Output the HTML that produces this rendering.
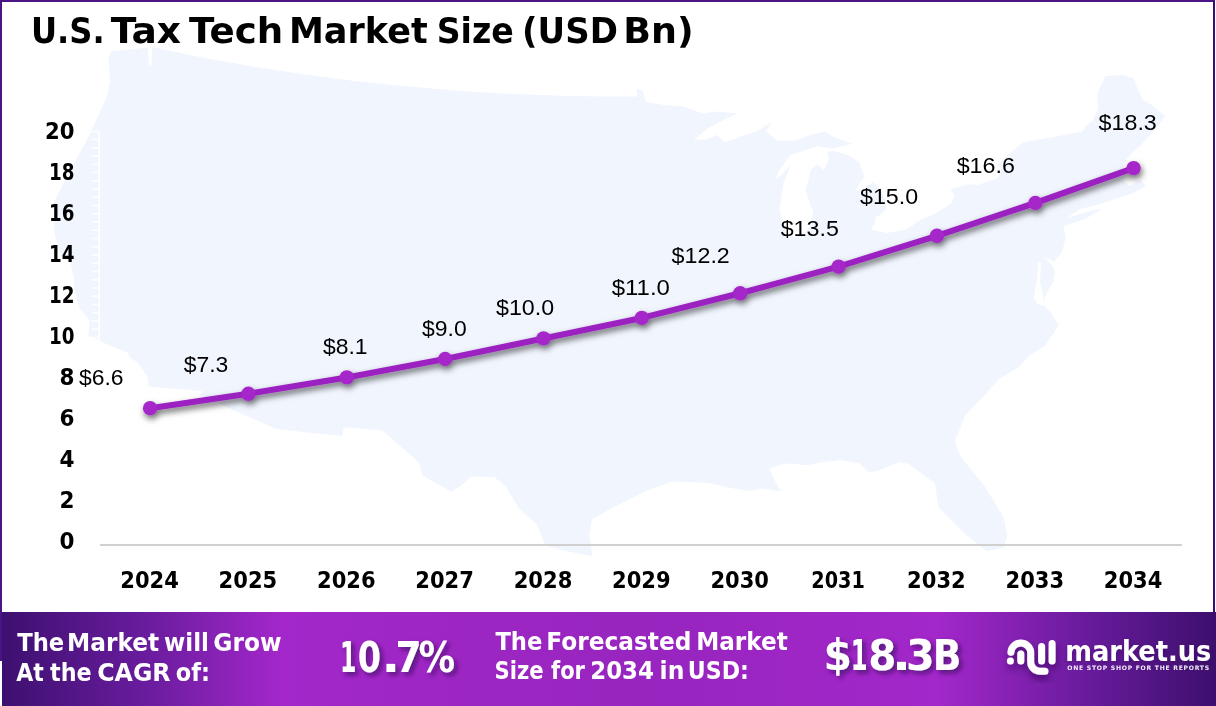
<!DOCTYPE html>
<html><head><meta charset="utf-8"><style>
html,body{margin:0;padding:0;background:#fff;}
body{width:1216px;height:706px;position:relative;overflow:hidden;font-family:"Liberation Sans",Arial,sans-serif;}
.pb{font-family:"DejaVu Sans","Liberation Sans",sans-serif;}
.frame{position:absolute;left:0;top:0;width:1211px;height:659px;border:2px solid #4a1484;border-bottom:none;border-right-color:#3c0b76;}
svg{position:absolute;left:0;top:0;}
.banner{position:absolute;left:2px;top:612px;width:1214px;height:94px;
background:linear-gradient(90deg,#3d1070 0%,#6a1c9e 12%,#a327ca 23%,#9c26c2 40%,#9825bf 55%,#a327ca 77%,#6c1ca0 88.5%,#3d0f6d 100%);}
</style></head><body>
<div class="frame"></div>
<svg width="1216" height="706" viewBox="0 0 1216 706">
<defs>
<filter id="mb"><feGaussianBlur stdDeviation="0.7"/></filter>
<filter id="sh" x="-5%" y="-20%" width="110%" height="150%"><feDropShadow dx="1.5" dy="3.5" stdDeviation="3" flood-color="#000" flood-opacity="0.58"/></filter>
</defs>
<path d="M111.1 51.1 L130.0 49.5 L147.5 47.5 L149.5 66.0 L151.5 66.0 L152.0 47.0 L197.2 56.6 L249.3 65.9 L301.8 74.0 L354.6 80.9 L407.7 86.5 L460.9 90.9 L514.4 94.0 L568.0 95.9 L600.1 96.4 L636.8 96.5 L636.7 89.0 L642.4 90.2 L645.8 101.9 L664.8 105.0 L682.8 106.6 L703.1 113.4 L715.7 111.4 L737.7 113.4 L725.4 118.9 L707.7 128.5 L693.7 139.8 L706.6 139.4 L716.5 135.1 L725.3 142.1 L739.8 137.0 L757.7 131.1 L771.4 121.9 L766.1 131.6 L777.3 140.8 L796.0 140.5 L810.1 134.9 L825.3 131.8 L832.8 136.6 L842.8 140.6 L852.8 143.7 L841.9 146.3 L831.9 148.6 L817.3 145.9 L803.0 151.0 L790.3 154.9 L780.6 168.5 L774.3 179.9 L783.1 173.4 L791.4 163.8 L784.0 181.3 L781.7 194.5 L779.7 210.6 L783.2 224.5 L788.2 233.2 L794.7 237.4 L803.3 234.2 L809.8 226.7 L813.4 212.3 L810.3 204.5 L805.4 189.8 L808.2 181.6 L810.4 170.4 L817.1 163.9 L823.8 170.3 L828.8 158.9 L827.7 152.0 L832.6 151.0 L841.1 152.8 L850.8 156.5 L859.4 162.9 L864.4 176.7 L859.7 183.2 L855.3 191.6 L862.7 188.9 L873.1 181.8 L880.5 190.1 L886.3 202.2 L886.2 209.7 L879.3 215.5 L875.6 216.9 L874.7 223.0 L870.8 229.5 L886.6 232.9 L906.2 229.8 L920.3 220.1 L935.2 213.6 L950.8 204.1 L954.8 195.9 L950.2 189.0 L969.8 184.2 L978.0 185.1 L997.9 178.1 L1001.1 168.4 L997.2 164.9 L1010.3 152.7 L1022.9 142.4 L1047.9 138.1 L1081.9 131.7 L1087.6 124.4 L1092.0 121.5 L1098.1 109.0 L1097.2 93.7 L1105.5 76.3 L1122.5 74.9 L1133.4 78.2 L1142.5 99.4 L1151.2 104.7 L1165.3 116.0 L1158.0 126.0 L1151.0 134.0 L1140.0 146.0 L1131.0 154.0 L1126.0 160.0 L1123.0 168.0 L1127.0 174.0 L1122.0 180.0 L1130.0 186.0 L1140.0 180.0 L1146.0 186.0 L1134.0 193.0 L1112.0 200.0 L1088.1 207.5 L1080.3 208.9 L1066.7 218.0 L1095.0 209.7 L1102.1 209.0 L1085.6 218.7 L1063.2 226.4 L1063.9 228.8 L1065.7 237.7 L1062.4 250.7 L1054.1 261.7 L1042.8 256.0 L1051.8 264.8 L1054.9 271.5 L1053.5 280.9 L1047.1 292.3 L1044.2 300.9 L1040.0 282.0 L1041.0 262.0 L1038.5 262.0 L1036.5 282.0 L1034.0 298.0 L1037.5 304.0 L1045.0 305.9 L1052.0 314.0 L1058.5 325.5 L1045.0 346.0 L1030.0 355.0 L1019.0 367.0 L999.0 379.0 L981.0 399.0 L965.0 416.0 L955.0 440.0 L958.1 450.9 L962.1 458.5 L984.6 486.0 L1003.9 517.8 L1007.2 535.9 L1003.2 547.8 L986.7 551.3 L965.6 534.2 L958.0 527.1 L938.3 507.2 L935.0 483.6 L909.0 464.1 L899.2 462.0 L890.5 465.8 L877.2 471.0 L869.2 472.3 L859.7 463.5 L840.5 459.9 L824.5 462.1 L806.2 465.3 L794.5 464.0 L785.1 463.5 L769.3 468.3 L772.3 476.1 L780.8 491.6 L761.7 488.6 L750.1 491.1 L731.0 487.9 L707.3 482.7 L672.2 481.5 L648.9 489.7 L632.5 497.8 L608.8 509.7 L592.0 519.5 L589.3 535.3 L592.5 556.0 L581.6 553.9 L564.6 550.7 L545.4 545.4 L536.7 524.4 L518.6 508.0 L505.8 486.6 L494.8 477.2 L471.5 476.2 L461.2 485.6 L451.2 491.6 L437.8 484.3 L422.4 475.3 L419.3 463.1 L404.7 450.0 L382.2 430.6 L343.8 427.2 L342.2 436.1 L277.2 429.2 L199.4 395.0 L202.3 391.0 L148.4 386.4 L147.3 376.5 L137.9 362.6 L130.2 358.2 L127.5 352.5 L113.4 346.9 L88.3 335.9 L89.7 320.6 L79.7 308.2 L73.8 288.3 L74.3 281.1 L70.4 262.5 L61.9 256.5 L54.8 236.1 L53.3 203.5 L60.0 190.0 L68.0 175.0 L77.0 158.0 L87.0 140.0 L97.1 118.0 L107.4 95.4 L110.2 81.5 L108.5 58.4 Z" fill="#f0f5fe" filter="url(#mb)"/>
<path d="M99.2 131.4V545 M92 131.4H99.5M92 139.6H99.5M92 147.9H99.5M92 156.1H99.5M92 164.4H99.5M92 172.6H99.5M92 180.8H99.5M92 189.1H99.5M92 197.3H99.5M92 205.6H99.5M92 213.8H99.5M92 222.0H99.5M92 230.3H99.5M92 238.5H99.5M92 246.8H99.5M92 255.0H99.5M92 263.2H99.5M92 271.5H99.5M92 279.7H99.5M92 288.0H99.5M92 296.2H99.5M92 304.4H99.5M92 312.7H99.5M92 320.9H99.5M92 329.2H99.5M92 337.4H99.5M92 345.6H99.5M92 353.9H99.5M92 362.1H99.5M92 370.4H99.5M92 378.6H99.5M92 386.8H99.5M92 395.1H99.5M92 403.3H99.5M92 411.6H99.5M92 419.8H99.5M92 428.0H99.5M92 436.3H99.5M92 444.5H99.5M92 452.8H99.5M92 461.0H99.5M92 469.2H99.5M92 477.5H99.5M92 485.7H99.5M92 494.0H99.5M92 502.2H99.5M92 510.4H99.5M92 518.7H99.5M92 526.9H99.5M92 535.2H99.5M92 543.4H99.5" stroke="#fff" stroke-width="1.5" fill="none"/>
<line x1="100.1" y1="545" x2="1181.8" y2="545" stroke="#d0d0d0" stroke-width="1.8"/>
<g class="pb" font-size="36.3" font-weight="700" fill="#000"><text y="43"><tspan x="30.9" textLength="73.8" lengthAdjust="spacingAndGlyphs">U.S.</tspan> <tspan x="110.7" textLength="70.4" lengthAdjust="spacingAndGlyphs">Tax</tspan> <tspan x="189.1" textLength="94.2" lengthAdjust="spacingAndGlyphs">Tech</tspan> <tspan x="288.9" textLength="138.8" lengthAdjust="spacingAndGlyphs">Market</tspan> <tspan x="436.7" textLength="77.2" lengthAdjust="spacingAndGlyphs">Size</tspan> <tspan x="522.1" textLength="95.8" lengthAdjust="spacingAndGlyphs">(USD</tspan> <tspan x="623.3" textLength="70.4" lengthAdjust="spacingAndGlyphs">Bn)</tspan></text></g>
<g class="pb" font-size="23" font-weight="700" text-anchor="end" fill="#000"><text x="74.6" y="549.4" textLength="15" lengthAdjust="spacingAndGlyphs">0</text><text x="74.6" y="508.3" textLength="15" lengthAdjust="spacingAndGlyphs">2</text><text x="74.6" y="467.3" textLength="15" lengthAdjust="spacingAndGlyphs">4</text><text x="74.6" y="426.2" textLength="15" lengthAdjust="spacingAndGlyphs">6</text><text x="74.6" y="385.2" textLength="15" lengthAdjust="spacingAndGlyphs">8</text><text x="74.6" y="344.1" textLength="25.5" lengthAdjust="spacingAndGlyphs">10</text><text x="74.6" y="303.1" textLength="25.5" lengthAdjust="spacingAndGlyphs">12</text><text x="74.6" y="262.0" textLength="25.5" lengthAdjust="spacingAndGlyphs">14</text><text x="74.6" y="221.0" textLength="25.5" lengthAdjust="spacingAndGlyphs">16</text><text x="74.6" y="179.9" textLength="25.5" lengthAdjust="spacingAndGlyphs">18</text><text x="74.6" y="138.9" textLength="29.5" lengthAdjust="spacingAndGlyphs">20</text></g>
<g class="pb" font-size="23.7" font-weight="700" text-anchor="middle" fill="#000"><text x="149.6" y="588.4" textLength="58.6" lengthAdjust="spacingAndGlyphs">2024</text><text x="247.9" y="588.4" textLength="58.6" lengthAdjust="spacingAndGlyphs">2025</text><text x="346.3" y="588.4" textLength="58.6" lengthAdjust="spacingAndGlyphs">2026</text><text x="444.6" y="588.4" textLength="58.6" lengthAdjust="spacingAndGlyphs">2027</text><text x="543.0" y="588.4" textLength="58.6" lengthAdjust="spacingAndGlyphs">2028</text><text x="641.3" y="588.4" textLength="58.6" lengthAdjust="spacingAndGlyphs">2029</text><text x="739.7" y="588.4" textLength="58.6" lengthAdjust="spacingAndGlyphs">2030</text><text x="838.1" y="588.4" textLength="53.5" lengthAdjust="spacingAndGlyphs">2031</text><text x="936.4" y="588.4" textLength="58.6" lengthAdjust="spacingAndGlyphs">2032</text><text x="1034.8" y="588.4" textLength="58.6" lengthAdjust="spacingAndGlyphs">2033</text><text x="1133.1" y="588.4" textLength="58.6" lengthAdjust="spacingAndGlyphs">2034</text></g>
<g filter="url(#sh)"><polyline points="150.1,408.2 248.4,393.8 346.8,377.4 445.1,359.0 543.5,338.4 641.8,317.9 740.2,293.3 838.6,266.6 936.9,235.8 1035.3,203.0 1133.6,168.1" fill="none" stroke="#9b23c0" stroke-width="6.1" stroke-linejoin="round"/>
<g fill="#a526c9"><circle cx="150.1" cy="408.2" r="7.2"/><circle cx="248.4" cy="393.8" r="7.2"/><circle cx="346.8" cy="377.4" r="7.2"/><circle cx="445.1" cy="359.0" r="7.2"/><circle cx="543.5" cy="338.4" r="7.2"/><circle cx="641.8" cy="317.9" r="7.2"/><circle cx="740.2" cy="293.3" r="7.2"/><circle cx="838.6" cy="266.6" r="7.2"/><circle cx="936.9" cy="235.8" r="7.2"/><circle cx="1035.3" cy="203.0" r="7.2"/><circle cx="1133.6" cy="168.1" r="7.2"/></g></g>
<g font-size="21.5" text-anchor="middle" fill="#000"><text x="101.3" y="385.1" textLength="44.6" lengthAdjust="spacingAndGlyphs">$6.6</text><text x="206" y="372.3" textLength="44.6" lengthAdjust="spacingAndGlyphs">$7.3</text><text x="345.3" y="354.1" textLength="44.6" lengthAdjust="spacingAndGlyphs">$8.1</text><text x="444.4" y="336.4" textLength="44.6" lengthAdjust="spacingAndGlyphs">$9.0</text><text x="525.1" y="314.5" textLength="58.2" lengthAdjust="spacingAndGlyphs">$10.0</text><text x="640.8" y="294.5" textLength="58.2" lengthAdjust="spacingAndGlyphs">$11.0</text><text x="700.7" y="262.9" textLength="58.2" lengthAdjust="spacingAndGlyphs">$12.2</text><text x="809.8" y="236.3" textLength="58.2" lengthAdjust="spacingAndGlyphs">$13.5</text><text x="889.1" y="203.7" textLength="58.2" lengthAdjust="spacingAndGlyphs">$15.0</text><text x="985.8" y="172.9" textLength="58.2" lengthAdjust="spacingAndGlyphs">$16.6</text><text x="1127.7" y="129.7" textLength="58.2" lengthAdjust="spacingAndGlyphs">$18.3</text></g>
</svg>
<div class="banner"></div>
<svg width="1216" height="706" viewBox="0 0 1216 706">
<defs>
<filter id="ts" x="-10%" y="-10%" width="130%" height="150%"><feDropShadow dx="3" dy="3" stdDeviation="2.5" flood-color="#3a0a60" flood-opacity="0.75"/></filter>
<filter id="ls" x="-20%" y="-20%" width="140%" height="160%"><feDropShadow dx="1" dy="5" stdDeviation="3.5" flood-color="#2a0650" flood-opacity="0.6"/></filter>
<filter id="ms" x="-10%" y="-20%" width="120%" height="160%"><feDropShadow dx="1" dy="3" stdDeviation="2.5" flood-color="#2a0650" flood-opacity="0.35"/></filter>
</defs>
<g class="pb" fill="#fff" font-weight="700" font-size="24.5">
<text y="651"><tspan x="17.2" textLength="47.0" lengthAdjust="spacingAndGlyphs">The</tspan> <tspan x="67.0" textLength="92.2" lengthAdjust="spacingAndGlyphs">Market</tspan> <tspan x="164.0" textLength="45.0" lengthAdjust="spacingAndGlyphs">will</tspan> <tspan x="213.2" textLength="68.4" lengthAdjust="spacingAndGlyphs">Grow</tspan></text>
<text y="680.7"><tspan x="16.2" textLength="27.6" lengthAdjust="spacingAndGlyphs">At</tspan> <tspan x="50.0" textLength="41.6" lengthAdjust="spacingAndGlyphs">the</tspan> <tspan x="97.2" textLength="73.4" lengthAdjust="spacingAndGlyphs">CAGR</tspan> <tspan x="175.8" textLength="34.2" lengthAdjust="spacingAndGlyphs">of:</tspan></text>
<text y="649.8"><tspan x="495.4" textLength="47.0" lengthAdjust="spacingAndGlyphs">The</tspan> <tspan x="546.2" textLength="145.2" lengthAdjust="spacingAndGlyphs">Forecasted</tspan> <tspan x="696.2" textLength="91.6" lengthAdjust="spacingAndGlyphs">Market</tspan></text>
<text y="679"><tspan x="494.4" textLength="49.2" lengthAdjust="spacingAndGlyphs">Size</tspan> <tspan x="551.0" textLength="34.0" lengthAdjust="spacingAndGlyphs">for</tspan> <tspan x="590.2" textLength="63.8" lengthAdjust="spacingAndGlyphs">2034</tspan> <tspan x="659.6" textLength="24.8" lengthAdjust="spacingAndGlyphs">in</tspan> <tspan x="687.8" textLength="61.0" lengthAdjust="spacingAndGlyphs">USD:</tspan></text>
<g filter="url(#ts)">
<g class="pb"><text y="672" font-size="43.2"><tspan x="340.05" textLength="16.37" lengthAdjust="spacingAndGlyphs">1</tspan><tspan x="357.80" textLength="23.31" lengthAdjust="spacingAndGlyphs">0</tspan><tspan x="381.41" textLength="18.59" lengthAdjust="spacingAndGlyphs">.</tspan><tspan x="395.38" textLength="26.22" lengthAdjust="spacingAndGlyphs">7</tspan><tspan x="418.62" textLength="36.64" lengthAdjust="spacingAndGlyphs">%</tspan></text></g>
<g class="pb"><text y="670.4" font-size="42.1"><tspan x="823.39" textLength="28.60" lengthAdjust="spacingAndGlyphs">$</tspan><tspan x="850.66" textLength="16.92" lengthAdjust="spacingAndGlyphs">1</tspan><tspan x="868.23" textLength="28.18" lengthAdjust="spacingAndGlyphs">8</tspan><tspan x="891.67" textLength="19.45" lengthAdjust="spacingAndGlyphs">.</tspan><tspan x="906.04" textLength="28.75" lengthAdjust="spacingAndGlyphs">3</tspan><tspan x="932.84" textLength="28.71" lengthAdjust="spacingAndGlyphs">B</tspan></text></g>
</g>
<g filter="url(#ls)">
<circle cx="1010.4" cy="660.9" r="3.5"/>
<path d="M1010.9 652.2A9.9 9.9 0 0 1 1030.7 653.6V662A9.3 9.3 0 0 0 1040 671.3H1045" fill="none" stroke="#fff" stroke-width="7" stroke-linecap="round"/>
<path d="M1020.8 654V661M1041.6 646.6V661.1M1052.1 643.4V661.1" stroke="#fff" stroke-width="7" stroke-linecap="round"/>
</g>
<text filter="url(#ms)" x="1065.2" y="660.8" font-size="28.7" textLength="146" lengthAdjust="spacingAndGlyphs">market.us</text>
<text x="1067.3" y="670.2" font-size="6.1" textLength="141.8" lengthAdjust="spacing" font-weight="700" fill-opacity="0.92">ONE STOP SHOP FOR THE REPORTS</text>
</g>
</svg>
</body></html>
